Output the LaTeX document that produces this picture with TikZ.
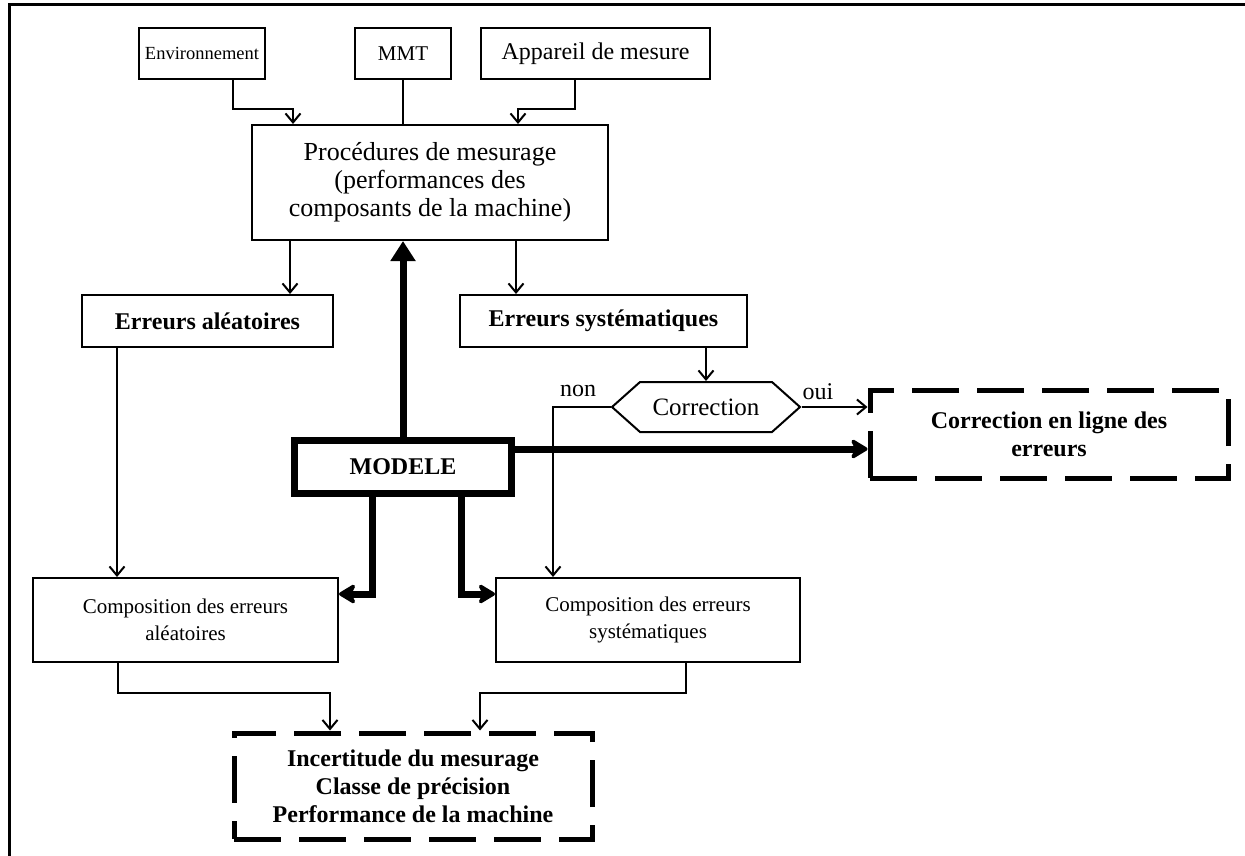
\documentclass[tikz,border=0pt]{standalone}
\usepackage{fontspec}
\setmainfont{Liberation Serif}
\usetikzlibrary{arrows.meta,shapes.symbols}

\begin{document}
\begin{tikzpicture}[x=1pt,y=-1pt,
  txt/.style={font=\fontsize{24}{28}\selectfont},
  box/.style={txt,draw,line width=2pt,align=center,inner sep=0pt},
  bbox/.style={box,font=\fontsize{24}{28}\selectfont\bfseries},
  dbox/.style={draw,line width=5pt,dash pattern=on 47pt off 18pt,align=center,inner sep=0pt,font=\fontsize{24}{28}\selectfont\bfseries},
  arr/.style={line width=2pt,-{Straight Barb[length=9pt,width=15pt]}},
  line/.style={line width=2pt},
  bigarr/.style={line width=7pt,-{Stealth[length=20pt,width=24pt,inset=6pt,round]}},
  uparr/.style={line width=7pt,-{Triangle[length=20pt,width=24pt]}}
]
\useasboundingbox (0,0) rectangle (1245,856);
\clip (0,0) rectangle (1245,856);

% page frame
\draw[line width=3pt] (9,880) -- (9,5) -- (1260,5);

% inputs
\node[box,font=\fontsize{18.5}{22}\selectfont,minimum width=126pt,minimum height=51pt] (env) at (202,53.5) {Environnement};
\node[box,font=\fontsize{21}{25}\selectfont,minimum width=96pt,minimum height=51pt] (mmt) at (403,53.5) {MMT};
\node[box,minimum width=229pt,minimum height=51pt] (app) at (595.5,53.5) {Appareil de mesure};

\node[box,font=\fontsize{26}{28}\selectfont,minimum width=356pt,minimum height=115pt] (proc) at (430,182.5)
  {Procédures de mesurage\\(performances des\\composants de la machine)};

\node[bbox,minimum width=251pt,minimum height=52pt] (ea) at (207.5,321) {Erreurs aléatoires};
\node[bbox,minimum width=287pt,minimum height=52pt] (es) at (603.5,321) {Erreurs systématiques};

\node[draw,line width=2pt,shape=signal,signal to=west and east,signal pointer angle=83.5,
  font=\fontsize{25}{28}\selectfont,minimum width=188pt,minimum height=50pt,inner sep=0pt] (corr) at (706,407) {Correction};
\node[txt] (non) at (578,391) {non};
\node[txt] (oui) at (818,392) {oui};

\node[dbox,minimum width=358pt,minimum height=88pt] (cel) at (1049,434) {Correction en ligne des\\erreurs};

\node[bbox,line width=7pt,minimum width=217pt,minimum height=53pt] (mod) at (403,467) {MODELE};

\node[box,font=\fontsize{21}{27}\selectfont,minimum width=305pt,minimum height=84pt] (ca) at (185.5,620) {Composition des erreurs\\aléatoires};
\node[box,font=\fontsize{21}{27}\selectfont,minimum width=304pt,minimum height=84pt] (cs) at (648,620) {Composition des erreurs\\systématiques};

\node[dbox,minimum width=358pt,minimum height=106pt] (bot) at (413,786)
  {Incertitude du mesurage\\Classe de précision\\Performance de la machine};

% inputs to the measuring procedure
\draw[arr] ([xshift=31pt]env.south) -- ++(0,29) -| ([xshift=-137pt]proc.north);
\draw[line] (mmt.south) -- (mmt.south |- proc.north);
\draw[arr] ([xshift=-20.5pt]app.south) -- ++(0,29) -| ([xshift=88pt]proc.north);

% error types
\coordinate (p1) at ([xshift=-140pt]proc.south);
\draw[arr] (p1) -- (p1 |- ea.north);
\coordinate (p2) at ([xshift=86pt]proc.south);
\draw[arr] (p2) -- (p2 |- es.north);
\draw[arr] (corr.north |- es.south) -- (corr.north);

% correction decision
\draw[arr] (corr.east) -- (corr.east -| cel.west);
\coordinate (n1) at ([xshift=-95pt]cs.north);
\draw[arr] (corr.west) -| (n1);

\coordinate (a1) at ([xshift=-90.5pt]ea.south);
\draw[arr] (a1) -- (a1 |- ca.north);

% model links
\draw[uparr] (mod.north) -- (mod.north |- proc.south);
\coordinate (m0) at ([yshift=18pt]mod.east);
\draw[bigarr] (m0) -- (m0 -| cel.west);
\draw[bigarr] ([xshift=-31pt]mod.south) |- ([yshift=26pt]ca.east);
\draw[bigarr] ([xshift=58pt]mod.south) |- ([yshift=26pt]cs.west);

% results
\draw[arr] ([xshift=-67.5pt]ca.south) -- ++(0,30) -| ([xshift=-83pt]bot.north);
\draw[arr] ([xshift=38pt]cs.south) -- ++(0,30) -| ([xshift=67pt]bot.north);
\end{tikzpicture}
\end{document}
